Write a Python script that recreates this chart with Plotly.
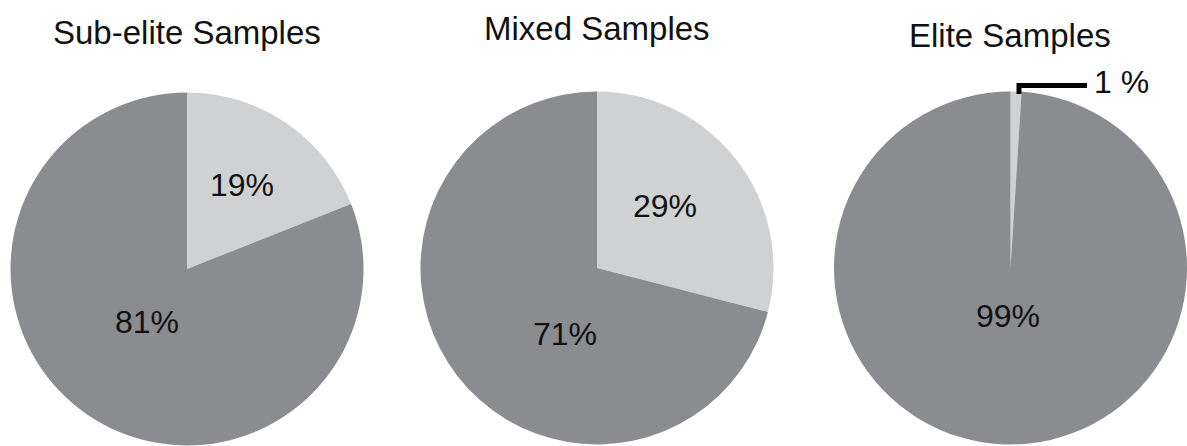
import plotly.graph_objects as go

# Share of samples in each group (percent)
groups = ["Sub-elite Samples", "Mixed Samples", "Elite Samples"]
light_share = [19, 29, 1]
dark_share = [81, 71, 99]

W, H = 1187, 446
LIGHT = "#d0d1d3"
DARK = "#8b8c90"
FONT = "Liberation Sans Narrow, Arial Narrow, Liberation Sans, Arial, sans-serif"

# pie centres and radius in pixels
centres = [(187, 269), (597, 268), (1010.5, 268)]
R = 176.5
title_pos = [(187, 32.5), (597, 28.5), (1010, 35)]
light_lbl = [(242, 185), (665, 206), None]
dark_lbl = [(147, 322), (565, 334), (1008, 316)]


def px(x):
    return x / W


def py(y):
    return 1 - y / H


fig = go.Figure()
for i, g in enumerate(groups):
    cx, cy = centres[i]
    fig.add_trace(go.Pie(
        labels=["light", "dark"],
        values=[light_share[i], dark_share[i]],
        marker=dict(colors=[LIGHT, DARK], line=dict(width=0)),
        sort=False, direction="clockwise", rotation=0,
        textinfo="none", hoverinfo="skip", showlegend=False,
        domain=dict(x=[max(0, px(cx - R)), min(1, px(cx + R))],
                    y=[max(0, py(cy + R)), min(1, py(cy - R))]),
    ))


def label(x, y, text, size):
    return dict(x=px(x), y=py(y), text=text, showarrow=False,
                xref="paper", yref="paper", xanchor="center", yanchor="middle",
                font=dict(family=FONT, size=size, color="#111"))


annotations = []
for i, g in enumerate(groups):
    tx, ty = title_pos[i]
    annotations.append(label(tx, ty, g, 33))
    if light_lbl[i] is not None:
        lx, ly = light_lbl[i]
        annotations.append(label(lx, ly, f"{light_share[i]}%", 32))
    dx, dy = dark_lbl[i]
    annotations.append(label(dx, dy, f"{dark_share[i]}%", 32))

# callout for the thin slice of the elite pie
annotations.append(label(1121, 82, f"{light_share[2]} %", 32))

shapes = [dict(type="path", xref="paper", yref="paper",
               path=f"M {px(1019)},{py(94)} L {px(1019)},{py(85.5)} L {px(1087)},{py(85.5)}",
               line=dict(color="black", width=5))]

fig.update_layout(
    width=W, height=H,
    margin=dict(l=0, r=0, t=0, b=0),
    paper_bgcolor="white", plot_bgcolor="white",
    annotations=annotations, shapes=shapes,
)

fig.write_html("out.html")
